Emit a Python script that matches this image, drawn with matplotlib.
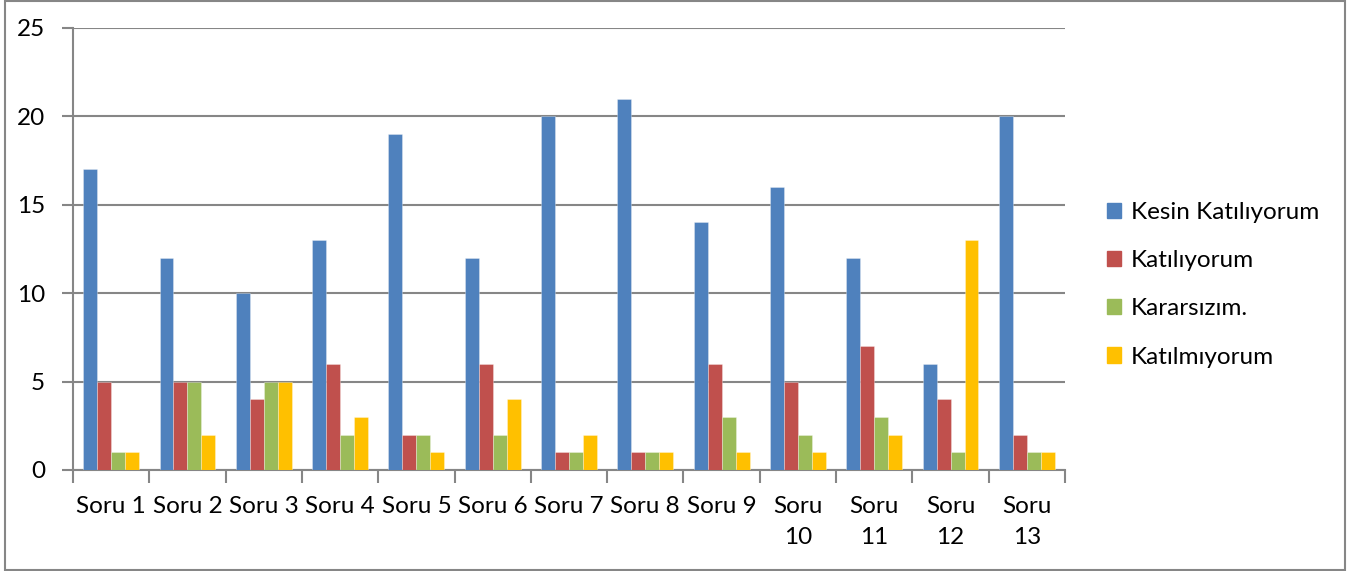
import matplotlib
matplotlib.use("Agg")
import matplotlib.pyplot as plt
import numpy as np
from matplotlib.patches import Rectangle

plt.rcParams['font.family'] = ['Lato', 'DejaVu Sans']

categories = ["Soru 1", "Soru 2", "Soru 3", "Soru 4", "Soru 5", "Soru 6", "Soru 7",
              "Soru 8", "Soru 9", "Soru\n10", "Soru\n11", "Soru\n12", "Soru\n13"]
series_names = ["Kesin Katılıyorum", "Katılıyorum", "Kararsızım.", "Katılmıyorum"]
kesin = [17, 12, 10, 13, 19, 12, 20, 21, 14, 16, 12, 6, 20]
katiliyorum = [5, 5, 4, 6, 2, 6, 1, 1, 6, 5, 7, 4, 2]
kararsizim = [1, 5, 5, 2, 2, 2, 1, 1, 3, 2, 3, 1, 1]
katilmiyorum = [1, 2, 5, 3, 1, 4, 2, 1, 1, 1, 2, 13, 1]
y_ticks = [0, 5, 10, 15, 20, 25]
colors = ["#4F81BD", "#C0504D", "#9BBB59", "#FFC000"]

W, H = 1357, 571
FS = 17.5
fig = plt.figure(figsize=(W / 100, H / 100), dpi=100)
ax = fig.add_axes([73 / W, 1 - 470 / H, (1065 - 73) / W, (470 - 28) / H])

n = len(categories)
x = np.arange(n)
bw = 0.183
data = [kesin, katiliyorum, kararsizim, katilmiyorum]
for i, (vals, col, name) in enumerate(zip(data, colors, series_names)):
    ax.bar(x + (i - 1.5) * bw, vals, width=bw, color=col, label=name,
           edgecolor=(1, 1, 1, 0.35), linewidth=0.6, zorder=3)

ax.set_xlim(-0.5, n - 0.5)
ax.set_ylim(0, 25)
ax.set_yticks(y_ticks)
ax.set_yticklabels([str(t) for t in y_ticks], fontsize=FS)
ax.yaxis.grid(True, color="#868686", linewidth=1.5, zorder=0)
ax.set_axisbelow(True)

# category boundary ticks
ax.set_xticks(np.arange(n + 1) - 0.5)
ax.set_xticklabels([])
ax.set_xticks(x, minor=True)
ax.set_xticklabels(categories, minor=True, fontsize=FS, linespacing=1.55, va="top")
ax.tick_params(axis="x", which="major", length=9, width=1.5, color="#868686", direction="out")
ax.tick_params(axis="x", which="minor", length=0, pad=19)
ax.tick_params(axis="y", length=8, width=1.5, color="#868686", pad=12)

for s in ["top", "right"]:
    ax.spines[s].set_visible(False)
for s in ["left", "bottom"]:
    ax.spines[s].set_color("#868686")
    ax.spines[s].set_linewidth(1.5)

# legend
handles = [Rectangle((0, 0), 1, 1, color=c) for c in colors]
leg = fig.legend(handles, series_names, loc="upper left",
                 bbox_to_anchor=(1085 / W, 1 - 180 / H), frameon=False,
                 fontsize=FS, handlelength=0.6, handleheight=0.6,
                 handletextpad=0.4, labelspacing=1.12)

# outer border
border = Rectangle((4.5 / W, 1 - 569.5 / H), (1345 - 4.5) / W, (569.5 - 0.5) / H,
                   transform=fig.transFigure, fill=False, edgecolor="#868686",
                   linewidth=1.5)
fig.patches.append(border)

fig.savefig("out.png", dpi=100)
